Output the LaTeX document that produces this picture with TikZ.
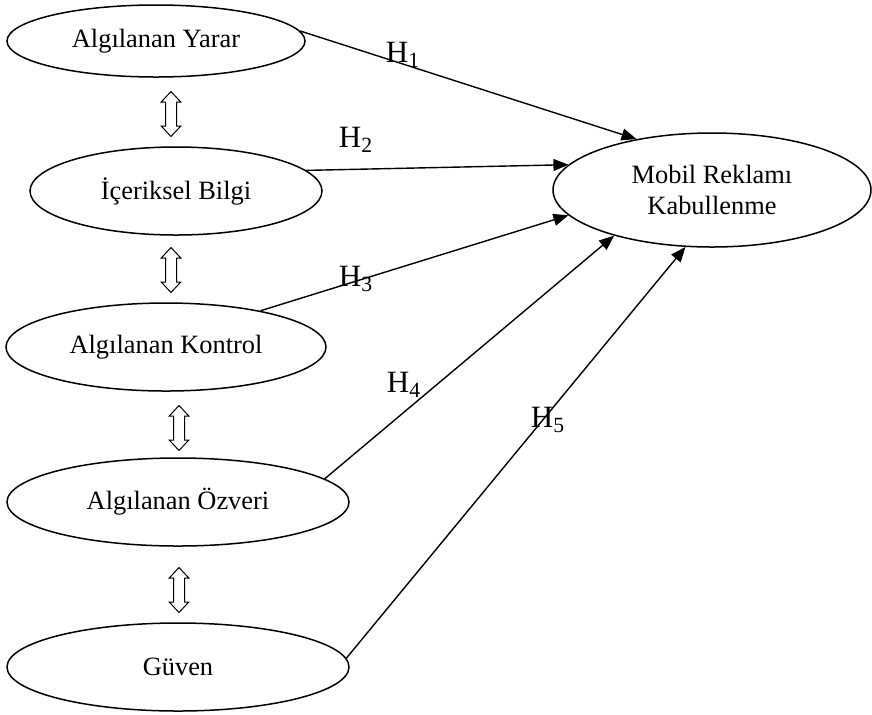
\documentclass[tikz,border=0pt]{standalone}
\usepackage{fontspec}
\setmainfont{Liberation Serif}
\usetikzlibrary{shapes.geometric,shapes.arrows,arrows.meta}

\tikzset{
  construct/.style={ellipse,draw,line width=0.75pt,inner sep=0pt,align=center,
    font=\fontsize{13.2}{15.5}\selectfont},
  link/.style={line width=0.7pt,-{Triangle[length=7.5pt,width=6pt]}},
  hyp/.style={inner sep=0pt,font=\fontsize{15.5}{18}\selectfont},
  biarrow/.style={double arrow,draw,line width=0.5pt,rotate=90,
    minimum height=22.5pt,minimum width=9.3pt,inner xsep=0pt,inner ysep=2.5pt,
    double arrow head extend=2.15pt,double arrow tip angle=86}
}

\begin{document}
\begin{tikzpicture}[x=0.5pt,y=-0.5pt]
\useasboundingbox (0,0) rectangle (872,714);
\node [construct,minimum width=149pt,minimum height=36pt] (yarar) at (156,41) {Algılanan Yarar};
\node [construct,minimum width=146pt,minimum height=44pt] (bilgi) at (176,191) {İçeriksel Bilgi};
\node [construct,minimum width=160pt,minimum height=44pt] (kontrol) at (166,347) {Algılanan Kontrol};
\node [construct,minimum width=171pt,minimum height=44pt] (ozveri) at (178,502) {Algılanan Özveri};
\node [construct,minimum width=171pt,minimum height=44pt] (guven) at (178,667) {Güven};
\node [construct,minimum width=159pt,minimum height=57pt] (mobil) at (712,190) {Mobil Reklamı\\Kabullenme};

\node [biarrow] (ud1) at (171,114) {};
\node [biarrow] (ud2) at (171,270) {};
\node [biarrow] (ud3) at (179,428) {};
\node [biarrow] (ud4) at (179,590) {};

\draw [link] (yarar.4) -- (mobil.146);
\draw [link] (bilgi.9) -- (mobil.170);
\draw [link] (kontrol.21) -- (mobil.190);
\draw [link] (ozveri.9) -- (mobil.205);
\draw [link] (guven.3) -- (mobil.245);

\node [hyp] (h1) at (403,55) {H\textsubscript{1}};
\node [hyp] (h2) at (356,140) {H\textsubscript{2}};
\node [hyp] (h3) at (356,279) {H\textsubscript{3}};
\node [hyp] (h4) at (404,385) {H\textsubscript{4}};
\node [hyp] (h5) at (548,420) {H\textsubscript{5}};
\end{tikzpicture}
\end{document}
